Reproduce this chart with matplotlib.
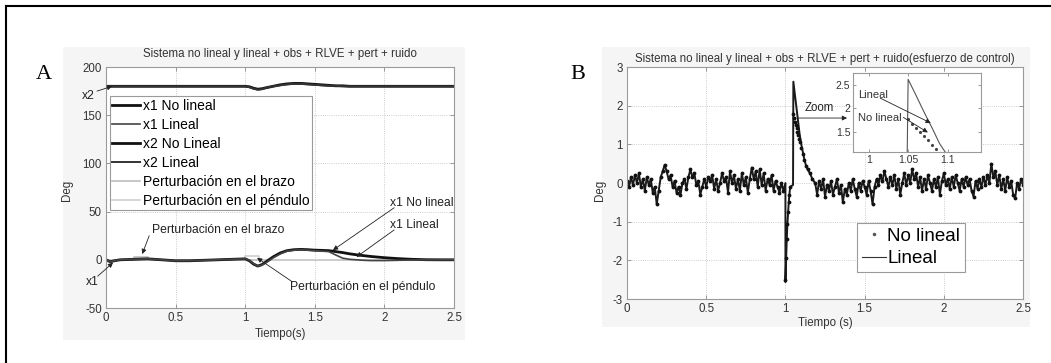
import numpy as np
import matplotlib
matplotlib.use('Agg')
import matplotlib.pyplot as plt
from matplotlib.patches import Rectangle
from matplotlib.lines import Line2D

plt.rcParams['font.family'] = ['Liberation Sans', 'DejaVu Sans']
plt.rcParams['axes.unicode_minus'] = False

# ---------------- Panel A: estados (grados)
t_a = [0, 0.03, 0.06, 0.1, 0.2, 0.3, 0.4, 0.5, 0.6, 0.7, 0.8, 0.9, 1.0, 1.03, 1.06,
       1.09, 1.12, 1.15, 1.2, 1.25, 1.3, 1.35, 1.4, 1.45, 1.5, 1.55, 1.6, 1.65, 1.7,
       1.75, 1.8, 1.85, 1.9, 2.0, 2.1, 2.2, 2.3, 2.4, 2.5]
x1_nolineal = [0, -2, -1, 0, 0.5, 1, 0, -1, -1, -0.5, 0, 0.5, 1, -1, -4.5,
               -6.5, -5, -2, 3, 7, 9.5, 10.5, 10.8, 10.5, 10, 9.8, 9.5, 8.5, 7.5,
               6.2, 5.2, 4.3, 3.5, 2.2, 1.2, 0.5, 0.1, 0, 0]
x1_lineal = [0, -2, -1, 0, 0.5, 1, 0, -1, -1, -0.5, 0, 0.5, 1, -0.5, -4,
             -6.5, -5.5, -3, 2, 6, 9, 10, 10.5, 10, 9.5, 9, 8.5, 5, 1.7,
             0.5, 0, -0.5, -0.8, -0.8, -0.5, -0.2, 0, 0, 0]
x2_nolineal = [180, 180, 180, 180, 180, 180, 180, 180, 180, 180, 180, 180, 180, 179.5, 178,
               177, 177.5, 178.5, 180, 181.5, 182.5, 183, 183, 182.5, 182, 181.5, 181, 180.5, 180.5,
               180, 180, 180, 180, 180, 180, 180, 180, 180, 180]
x2_lineal = [180, 180, 180, 180, 180, 180, 180, 180, 180, 180, 180, 180, 180, 179, 177.5,
             176.5, 177, 178.5, 180, 181, 182, 182.5, 182.5, 182, 181.5, 181, 180.5, 180.5, 180,
             180, 180, 180, 180, 180, 180, 180, 180, 180, 180]
t_pert_brazo = [0, 0.2, 0.2, 0.3, 0.3, 2.5]
pert_brazo = [0, 0, 3, 3, 0, 0]
t_pert_pendulo = [0, 1.0, 1.0, 1.1, 1.1, 2.5]
pert_pendulo = [0, 0, 4, 4, 0, 0]

etiquetas_a = ['x1 No lineal', 'x1 Lineal', 'x2 No Lineal', 'x2 Lineal',
               'Perturbación en el brazo', 'Perturbación en el péndulo']

# ---------------- Panel B: esfuerzo de control
dt = 0.0125
ruido_pre = [0.05, -0.1, 0.15, -0.05, 0.2, 0.0, 0.25, -0.1, 0.1, -0.2,
             0.15, -0.05, 0.1, -0.25, -0.1, -0.55, -0.2, 0.15, 0.3, 0.47,
             0.3, 0.1, 0.2, -0.1, 0.05, -0.25, -0.1, -0.3, 0.0, 0.1,
             -0.15, 0.15, 0.35, 0.15, 0.25, -0.05, 0.05, -0.3, -0.1, 0.1,
             -0.1, 0.15, 0.05, 0.2, -0.15, 0.1, -0.2, 0.0, 0.25, 0.05,
             0.15, -0.25, 0.3, 0.0, 0.2, -0.15, 0.1, -0.2, 0.25, -0.05,
             0.15, -0.25, 0.1, 0.4, 0.1, 0.3, -0.1, 0.35, -0.05, 0.25,
             -0.2, 0.1, -0.05, 0.2, -0.2, 0.05, -0.1, -0.25, 0.0, -0.2]
ruido_post = [0.0, -0.3, 0.05, -0.15, 0.1, -0.35, -0.05, -0.2, 0.05, -0.3,
              -0.1, 0.1, -0.25, -0.05, -0.5, -0.15, -0.3, 0.0, -0.2, 0.1,
              -0.15, -0.35, 0.0, -0.2, 0.05, -0.1, -0.3, 0.05, -0.2, -0.55,
              -0.1, 0.1, -0.05, 0.2, 0.05, 0.3, 0.1, -0.1, 0.15, -0.05,
              0.2, -0.15, 0.1, -0.3, 0.0, 0.25, -0.05, 0.2, 0.0, 0.35,
              0.1, 0.25, -0.1, 0.15, -0.2, 0.1, -0.15, 0.2, 0.0, -0.2,
              0.1, -0.1, 0.15, -0.3, 0.05, 0.25, -0.05, 0.1, -0.15, 0.15,
              -0.1, 0.2, 0.0, -0.2, 0.1, -0.1, 0.15, -0.05, 0.1, -0.2,
              -0.35, 0.05, -0.15, 0.1, -0.1, 0.15, -0.05, 0.2, 0.0, 0.5,
              0.15, 0.3, -0.05, 0.2, -0.15, 0.1, -0.2, 0.15, -0.1, 0.05,
              -0.3, -0.4, 0.0, -0.15, 0.1, -0.05]
t_post0 = 1.1875
# pico en t = 1 s
t_pico_lineal = [1.0, 1.0, 1.004, 1.008, 1.012, 1.016, 1.02, 1.025, 1.03, 1.048, 1.05,
                 1.06, 1.07, 1.08, 1.09, 1.10, 1.11, 1.12, 1.13, 1.14, 1.155, 1.17]
u_pico_lineal = [0.0, -2.56, -2.0, -1.5, -1.1, -0.8, -0.55, -0.3, -0.1, -0.05, 2.62,
                 2.28, 1.93, 1.6, 1.25, 1.0, 0.8, 0.6, 0.45, 0.35, 0.25, 0.1]
t_pico_nolineal = [1.0, 1.004, 1.008, 1.012, 1.016, 1.02, 1.025, 1.03, 1.05, 1.055, 1.06,
                   1.065, 1.07, 1.075, 1.08, 1.085, 1.09, 1.1, 1.11, 1.12, 1.13, 1.14, 1.155, 1.17]
u_pico_nolineal = [-2.5, -1.95, -1.45, -1.05, -0.75, -0.5, -0.3, -0.1, 1.78, 1.68, 1.59,
                   1.5, 1.41, 1.32, 1.23, 1.14, 1.06, 0.9, 0.75, 0.6, 0.45, 0.35, 0.25, 0.1]

t_pre = np.arange(len(ruido_pre)) * dt
t_post = t_post0 + np.arange(len(ruido_post)) * dt
t_lin = np.concatenate([t_pre, t_pico_lineal, t_post])
u_lin = np.concatenate([ruido_pre, u_pico_lineal, ruido_post])
t_nl = np.concatenate([t_pre, t_pico_nolineal, t_post])
u_nl = np.concatenate([ruido_pre, u_pico_nolineal, ruido_post])

ticks_t = [0, 0.5, 1, 1.5, 2, 2.5]
ticks_t_lbl = ['0', '0.5', '1', '1.5', '2', '2.5']

fig = plt.figure(figsize=(10.51, 3.63), dpi=100)

# marco de la página
fig.add_artist(Line2D([6/1051, 1], [1-6/363, 1-6/363], color='k', lw=1.5, transform=fig.transFigure))
fig.add_artist(Line2D([6/1051, 6/1051], [0, 1-6/363], color='k', lw=1.5, transform=fig.transFigure))
# fondo gris de las figuras escaneadas
fig.add_artist(Rectangle((0.0599, 0.0634), 0.3825, 0.8072, facecolor='#f5f5f5', edgecolor='none',
                         transform=fig.transFigure, zorder=-5))
fig.add_artist(Rectangle((0.5728, 0.0992), 0.4072, 0.7713, facecolor='#f5f5f5', edgecolor='none',
                         transform=fig.transFigure, zorder=-5))


def estilo(ax, size=8.3):
    ax.grid(True, ls=':', color='#bdbdbd', lw=0.6)
    ax.tick_params(direction='in', length=3, width=0.6, top=True, right=True,
                   labelsize=size, color='#888888', labelcolor='#333333', pad=3)
    for s in ax.spines.values():
        s.set_color('#9a9a9a')
        s.set_linewidth(0.8)


# ---------------- A
axA = fig.add_axes([0.1009, 0.1515, 0.3311, 0.6639])
axA.plot(t_pert_brazo, pert_brazo, color='#bdbdbd', lw=1.2)
axA.plot(t_pert_pendulo, pert_pendulo, color='#cfcfcf', lw=1.2)
l1, = axA.plot(t_a, x1_nolineal, color='#111111', lw=2.0)
l2, = axA.plot(t_a, x1_lineal, color='#444444', lw=1.2)
l3, = axA.plot(t_a, x2_nolineal, color='#111111', lw=2.0)
l4, = axA.plot(t_a, x2_lineal, color='#333333', lw=1.4)
p1 = Line2D([], [], color='#bdbdbd', lw=1.2)
p2 = Line2D([], [], color='#cfcfcf', lw=1.2)
axA.set_xlim(0, 2.5)
axA.set_ylim(-50, 200)
axA.set_xticks(ticks_t)
axA.set_xticklabels(ticks_t_lbl)
axA.set_yticks([-50, 0, 50, 100, 150, 200])
estilo(axA)
axA.set_title('Sistema no lineal y lineal + obs + RLVE + pert + ruido', fontsize=8.3, color='#333333', pad=7)
axA.set_xlabel('Tiempo(s)', fontsize=8.3, color='#333333')
axA.set_ylabel('Deg', fontsize=8.3, color='#333333')
axA.xaxis.set_label_coords(0.5, -0.083)
axA.yaxis.set_label_coords(-0.095, 0.49)
legA = axA.legend([l1, l2, l3, l4, p1, p2], etiquetas_a, loc='upper left', bbox_to_anchor=(0.01, 0.88),
                  borderaxespad=0, fontsize=10, handlelength=2.0, handletextpad=0.2, labelspacing=0.36,
                  borderpad=0.2, fancybox=False, framealpha=1, edgecolor='#9a9a9a')
legA.get_frame().set_linewidth(0.8)

flecha = dict(arrowstyle='-|>', lw=0.6, color='#222222', mutation_scale=7, shrinkA=0, shrinkB=0)
anotA = [
    ('x2', (-0.13, 170), (-0.065, 175), (0.043, 180), 'center'),
    ('x1', (-0.10, -23), (-0.06, -17), (0.05, -3), 'center'),
    ('Perturbación en el brazo', (0.33, 31), (0.31, 25), (0.26, 6), 'left'),
    ('Perturbación en el péndulo', (1.32, -28), (1.34, -23), (1.085, 2), 'left'),
    ('x1 No lineal', (2.04, 59), (2.07, 54), (1.63, 10), 'left'),
    ('x1 Lineal', (2.04, 36), (2.07, 31), (1.80, 3), 'left'),
]
for txt, pos, ini, fin, ha in anotA:
    axA.text(pos[0], pos[1], txt, fontsize=8.7, color='#222222', ha=ha, va='center', clip_on=False)
    axA.annotate('', xy=fin, xytext=ini, arrowprops=flecha, annotation_clip=False)

fig.text(0.0419, 0.7934, 'A', family='Liberation Serif', fontsize=16, ha='center', va='center')

# ---------------- B
axB = fig.add_axes([0.5966, 0.1763, 0.3768, 0.6391])
lb, = axB.plot(t_lin, u_lin, color='#1a1a1a', lw=1.4)
nb, = axB.plot(t_nl, u_nl, ls='none', marker='.', ms=3.5, color='#111111')
axB.set_xlim(0, 2.5)
axB.set_ylim(-3, 3)
axB.set_xticks(ticks_t)
axB.set_xticklabels(ticks_t_lbl)
axB.set_yticks([-3, -2, -1, 0, 1, 2, 3])
estilo(axB)
axB.set_title('Sistema no lineal y lineal + obs + RLVE + pert + ruido(esfuerzo de control)',
              fontsize=8.3, color='#333333', pad=3.5)
axB.set_xlabel('Tiempo (s)', fontsize=8.3, color='#333333')
axB.set_ylabel('Deg', fontsize=8.3, color='#333333')
axB.xaxis.set_label_coords(0.5, -0.078)
axB.yaxis.set_label_coords(-0.053, 0.47)
h_nl = Line2D([], [], ls='none', marker='.', ms=3, color='#555555')
h_l = Line2D([], [], color='#333333', lw=0.8)
legB = axB.legend([h_nl, h_l], ['No lineal', 'Lineal'], loc='upper left', bbox_to_anchor=(0.581, 0.328),
                  borderaxespad=0, fontsize=13.5, handlelength=1.3, handletextpad=0.05, labelspacing=0.3,
                  borderpad=0.25, fancybox=False, framealpha=1, edgecolor='#9a9a9a', numpoints=1)
legB.get_frame().set_linewidth(0.8)
axB.text(1.212, 1.94, 'Zoom', fontsize=8.3, color='#222222', ha='center', va='center')
axB.annotate('', xy=(1.389, 1.68), xytext=(1.073, 1.68), arrowprops=flecha)

fig.text(0.55, 0.7934, 'B', family='Liberation Serif', fontsize=16, ha='center', va='center')

# ---------------- zoom
axZ = fig.add_axes([0.8116, 0.5813, 0.1218, 0.2176])
axZ.plot(t_pico_lineal, u_pico_lineal, color='#555555', lw=0.8)
axZ.plot(t_pico_nolineal, u_pico_nolineal, ls='none', marker='.', ms=2.5, color='#444444')
axZ.set_xlim(0.98, 1.1425)
axZ.set_ylim(1.074, 2.755)
axZ.set_xticks([1, 1.05, 1.1])
axZ.set_xticklabels(['1', '1.05', '1.1'])
axZ.set_yticks([1.5, 2, 2.5])
axZ.set_yticklabels(['1.5', '2', '2.5'])
axZ.tick_params(direction='in', length=2.5, width=0.6, top=True, right=True,
                labelsize=7.5, color='#888888', labelcolor='#333333', pad=2)
for s in axZ.spines.values():
    s.set_color('#9a9a9a')
    s.set_linewidth(0.8)
axZ.text(0.9864, 2.287, 'Lineal', fontsize=8, color='#333333', ha='left', va='center')
axZ.text(0.9864, 1.80, 'No lineal', fontsize=8, color='#333333', ha='left', va='center')
axZ.annotate('', xy=(1.0787, 1.69), xytext=(1.0146, 2.22), arrowprops=flecha)
axZ.annotate('', xy=(1.075, 1.49), xytext=(1.044, 1.81), arrowprops=flecha)

fig.savefig('out.png', dpi=100)
